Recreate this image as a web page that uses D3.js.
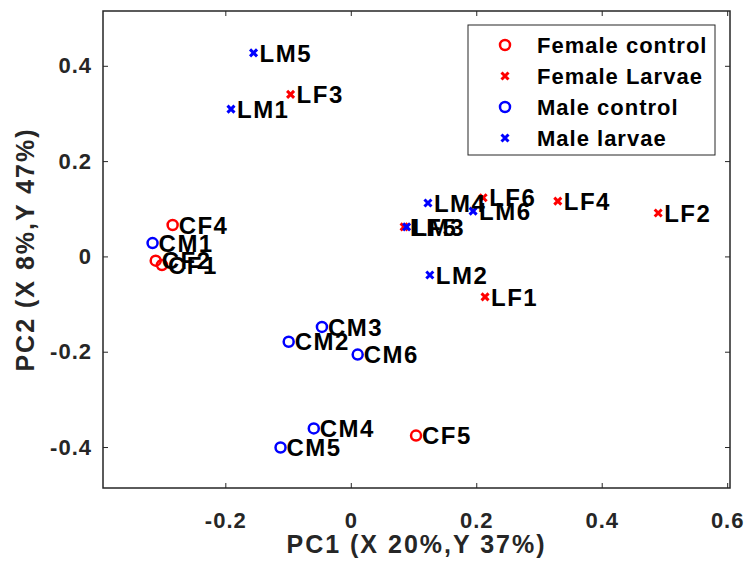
<!DOCTYPE html>
<html>
<head>
<meta charset="utf-8">
<script src="https://cdn.jsdelivr.net/npm/d3@7"></script>
<style>
  body { margin: 0; background: #fff; }
  text { font-family: "Liberation Sans", Arial, sans-serif; font-weight: bold; }
</style>
</head>
<body>
<script>
// sample groups and their PC scores
const femaleControl = [
  { name: "CF1", pc1: -0.301, pc2: -0.018 },
  { name: "CF2", pc1: -0.311, pc2: -0.009 },
  { name: "CF4", pc1: -0.284, pc2: 0.066 },
  { name: "CF5", pc1: 0.104, pc2: -0.376 }
];
const femaleLarvae = [
  { name: "LF1", pc1: 0.214, pc2: -0.085 },
  { name: "LF2", pc1: 0.490, pc2: 0.091 },
  { name: "LF3", pc1: -0.096, pc2: 0.340 },
  { name: "LF4", pc1: 0.330, pc2: 0.116 },
  { name: "LF5", pc1: 0.085, pc2: 0.062 },
  { name: "LF6", pc1: 0.211, pc2: 0.123 }
];
const maleControl = [
  { name: "CM1", pc1: -0.316, pc2: 0.028 },
  { name: "CM2", pc1: -0.099, pc2: -0.179 },
  { name: "CM3", pc1: -0.046, pc2: -0.148 },
  { name: "CM4", pc1: -0.059, pc2: -0.361 },
  { name: "CM5", pc1: -0.112, pc2: -0.401 },
  { name: "CM6", pc1: 0.011, pc2: -0.206 }
];
const maleLarvae = [
  { name: "LM1", pc1: -0.191, pc2: 0.309 },
  { name: "LM2", pc1: 0.126, pc2: -0.039 },
  { name: "LM3", pc1: 0.089, pc2: 0.062 },
  { name: "LM4", pc1: 0.123, pc2: 0.112 },
  { name: "LM5", pc1: -0.155, pc2: 0.427 },
  { name: "LM6", pc1: 0.195, pc2: 0.095 }
];

const xTicks = [-0.2, 0, 0.2, 0.4, 0.6];
const yTicks = [-0.4, -0.2, 0, 0.2, 0.4];

const groups = [
  { label: "Female control", color: "#ff0000", shape: "o", data: femaleControl },
  { label: "Female Larvae", color: "#ff0000", shape: "x", data: femaleLarvae },
  { label: "Male control", color: "#0000ff", shape: "o", data: maleControl },
  { label: "Male larvae", color: "#0000ff", shape: "x", data: maleLarvae }
];

const width = 745, height = 568;
const margin = { left: 103, right: 15, top: 11, bottom: 80 };

const svg = d3.select("body").append("svg")
  .attr("width", width)
  .attr("height", height);

const x = d3.scaleLinear().domain([-0.395, 0.6045]).range([margin.left, width - margin.right]);
const y = d3.scaleLinear().domain([-0.486, 0.515]).range([height - margin.bottom, margin.top]);

const axisColor = "#262626";
const tickLen = 5;

// plain hyphen for negatives, like the original
const fmt = d => d === 0 ? "0" : d3.format(".1f")(d).replace("\u2212", "-");

function styleTicks(g) {
  g.selectAll("text")
    .attr("fill", axisColor)
    .style("font-size", "22px")
    .style("letter-spacing", "1px")
    .style("font-family", "Liberation Sans, Arial, sans-serif")
    .style("font-weight", "bold");
}

// axes with inward ticks, box on
svg.append("g")
  .attr("transform", `translate(0,${y.range()[0]})`)
  .call(d3.axisBottom(x).tickValues(xTicks).tickSizeInner(-tickLen).tickSizeOuter(0).tickPadding(24).tickFormat(fmt))
  .call(g => g.select(".domain").remove())
  .call(g => g.selectAll("line").attr("stroke", axisColor))
  .call(styleTicks);

svg.append("g")
  .attr("transform", `translate(0,${y.range()[1]})`)
  .call(d3.axisTop(x).tickValues(xTicks).tickSizeInner(-tickLen).tickSizeOuter(0).tickFormat(""))
  .call(g => g.select(".domain").remove())
  .call(g => g.selectAll("line").attr("stroke", axisColor));

svg.append("g")
  .attr("transform", `translate(${x.range()[0]},0)`)
  .call(d3.axisLeft(y).tickValues(yTicks).tickSizeInner(-tickLen).tickSizeOuter(0).tickPadding(11).tickFormat(fmt))
  .call(g => g.select(".domain").remove())
  .call(g => g.selectAll("line").attr("stroke", axisColor))
  .call(styleTicks);

svg.append("g")
  .attr("transform", `translate(${x.range()[1]},0)`)
  .call(d3.axisRight(y).tickValues(yTicks).tickSizeInner(-tickLen).tickSizeOuter(0).tickFormat(""))
  .call(g => g.select(".domain").remove())
  .call(g => g.selectAll("line").attr("stroke", axisColor));

svg.append("rect")
  .attr("x", x.range()[0])
  .attr("y", y.range()[1])
  .attr("width", x.range()[1] - x.range()[0])
  .attr("height", y.range()[0] - y.range()[1])
  .attr("fill", "none")
  .attr("stroke", axisColor)
  .attr("stroke-width", 1.5);

// axis titles
svg.append("text")
  .attr("x", (x.range()[0] + x.range()[1]) / 2)
  .attr("y", 553)
  .attr("text-anchor", "middle")
  .attr("fill", axisColor)
  .style("font-size", "25px")
  .style("letter-spacing", "2px")
  .text("PC1 (X 20%,Y 37%)");

svg.append("text")
  .attr("transform", `translate(34,${(y.range()[0] + y.range()[1]) / 2}) rotate(-90)`)
  .attr("text-anchor", "middle")
  .attr("fill", axisColor)
  .style("font-size", "25px")
  .style("letter-spacing", "2px")
  .text("PC2 (X 8%,Y 47%)");

function drawMarker(sel, shape, color) {
  if (shape === "o") {
    sel.append("circle")
      .attr("r", 5)
      .attr("fill", "none")
      .attr("stroke", color)
      .attr("stroke-width", 2.5);
  } else {
    sel.append("path")
      .attr("d", "M-3.5,-3.5L3.5,3.5M-3.5,3.5L3.5,-3.5")
      .attr("fill", "none")
      .attr("stroke", color)
      .attr("stroke-width", 3);
  }
}

// points
groups.forEach(gr => {
  gr.data.forEach(d => {
    const m = svg.append("g").attr("transform", `translate(${x(d.pc1)},${y(d.pc2)})`);
    drawMarker(m, gr.shape, gr.color);
  });
});

// labels
groups.forEach(gr => {
  svg.selectAll(null)
    .data(gr.data)
    .enter().append("text")
    .attr("x", d => x(d.pc1) + 6)
    .attr("y", d => y(d.pc2))
    .attr("dy", "0.36em")
    .attr("fill", "#000")
    .style("font-size", "24px")
    .style("letter-spacing", "1.5px")
    .text(d => d.name);
});

// legend
const legend = svg.append("g");
legend.append("rect")
  .attr("x", 468).attr("y", 25)
  .attr("width", 247).attr("height", 130)
  .attr("fill", "#fff")
  .attr("stroke", axisColor)
  .attr("stroke-width", 1);

groups.forEach((gr, i) => {
  const yy = 45 + i * 31;
  const m = legend.append("g").attr("transform", `translate(505,${yy})`);
  drawMarker(m, gr.shape, gr.color);
  legend.append("text")
    .attr("x", 537)
    .attr("y", yy)
    .attr("dy", "0.36em")
    .attr("fill", "#000")
    .style("font-size", "22px")
    .style("letter-spacing", "1px")
    .text(gr.label);
});
</script>
</body>
</html>
